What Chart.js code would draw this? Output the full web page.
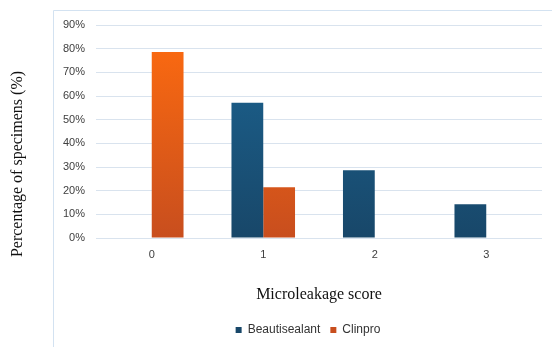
<!DOCTYPE html>
<html>
<head>
<meta charset="utf-8">
<script src="https://cdn.jsdelivr.net/npm/chart.js@4.4.1/dist/chart.umd.min.js"></script>
<style>
    html, body { margin: 0; padding: 0; background: #ffffff; }
    #wrap { width: 552px; height: 347px; }
</style>
</head>
<body>
<div id="wrap"><canvas id="leakChart" width="552" height="347"></canvas></div>
<script>
// Données du graphique
const scores = ['0', '1', '2', '3'];
const beautisealant = [0, 57.1, 28.6, 14.3];
const clinpro = [78.6, 21.4, 0, 0];
const yTicks = [0, 10, 20, 30, 40, 50, 60, 70, 80, 90];

// Dégradé vertical pour les barres
function barGradient(top, bottom) {
    return function (context) {
        const chart = context.chart;
        const area = chart.chartArea;
        if (!area) return top;
        const g = chart.ctx.createLinearGradient(0, area.top, 0, area.bottom);
        g.addColorStop(0, top);
        g.addColorStop(1, bottom);
        return g;
    };
}

// Cadre bleu clair + titre vertical
const framePlugin = {
    id: 'frame',
    afterLayout(chart) {
        // décaler la légende vers la droite (centrée sur le cadre)
        if (chart.legend) {
            chart.legend.left = 74;
            chart.legend.width = chart.legend.right - chart.legend.left;
        }
    },
    beforeDraw(chart) {
        const ctx = chart.ctx;
        ctx.save();
        ctx.fillStyle = '#ffffff';
        ctx.fillRect(0, 0, chart.width, chart.height);
        ctx.strokeStyle = '#d3e2f1';
        ctx.lineWidth = 1;
        ctx.beginPath();
        ctx.moveTo(53.5, chart.height + 2);
        ctx.lineTo(53.5, 10.5);
        ctx.lineTo(chart.width + 2, 10.5);
        ctx.stroke();
        ctx.restore();
    },
    afterDraw(chart) {
        const ctx = chart.ctx;
        ctx.save();
        ctx.translate(18, 164);
        ctx.rotate(-Math.PI / 2);
        ctx.font = '16px "Liberation Serif", "Times New Roman", serif';
        ctx.fillStyle = '#111111';
        ctx.textAlign = 'center';
        ctx.textBaseline = 'middle';
        ctx.fillText('Percentage of specimens (%)', 0, 0);
        ctx.restore();
    }
};

const ctx = document.getElementById('leakChart').getContext('2d');
const leakChart = new Chart(ctx, {
    type: 'bar',
    data: {
        labels: scores,
        datasets: [
            {
                label: 'Beautisealant',
                data: beautisealant,
                backgroundColor: barGradient('#1c6593', '#184769'),
                borderWidth: 0
            },
            {
                label: 'Clinpro',
                data: clinpro,
                backgroundColor: barGradient('#ff6c0f', '#c84e1e'),
                borderWidth: 0
            }
        ]
    },
    options: {
        responsive: false,
        animation: false,
        layout: {
            padding: { left: 53, right: 10, top: 25, bottom: 1 }
        },
        datasets: {
            bar: {
                categoryPercentage: 0.57,
                barPercentage: 1
            }
        },
        plugins: {
            legend: {
                position: 'bottom',
                labels: {
                    boxWidth: 6,
                    boxHeight: 6,
                    padding: 10,
                    color: '#333333',
                    font: { family: '"Liberation Sans", Arial, sans-serif', size: 12 }
                }
            },
            tooltip: { enabled: false }
        },
        scales: {
            x: {
                grid: { display: false, drawTicks: false },
                border: { display: false },
                ticks: {
                    padding: 10,
                    color: '#404040',
                    font: { family: '"Liberation Sans", Arial, sans-serif', size: 11 }
                },
                title: {
                    display: true,
                    text: 'Microleakage score',
                    color: '#111111',
                    padding: { top: 0, bottom: 10 },
                    font: { family: '"Liberation Serif", "Times New Roman", serif', size: 16 }
                },
                afterFit(scale) { scale.height = 76; }
            },
            y: {
                min: 0,
                max: 90,
                afterBuildTicks(scale) {
                    scale.ticks = yTicks.map(v => ({ value: v }));
                },
                grid: {
                    color: '#d9e3ee',
                    lineWidth: 1,
                    drawTicks: false
                },
                border: { display: false },
                ticks: {
                    padding: 11,
                    color: '#404040',
                    font: { family: '"Liberation Sans", Arial, sans-serif', size: 11 },
                    callback: v => v + '%'
                },
                afterFit(scale) { scale.width = 43; }
            }
        }
    },
    plugins: [framePlugin]
});
</script>
</body>
</html>
